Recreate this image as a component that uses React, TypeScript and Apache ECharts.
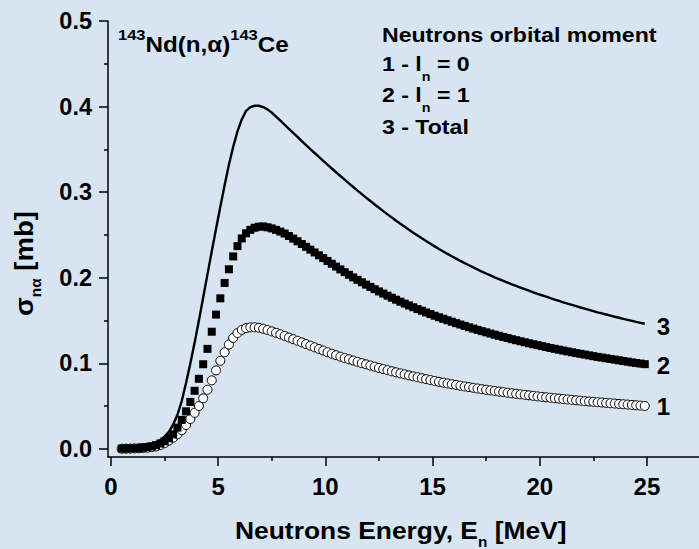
import { useEffect, useRef } from "react";
import * as echarts from "echarts";

// Neutron energy grid, MeV
const energyMeV = [
  0.5, 0.7, 0.9, 1.1, 1.3, 1.5, 1.7, 1.9, 2.1, 2.3,
  2.5, 2.7, 2.9, 3.1, 3.3, 3.5, 3.7, 3.9, 4.1, 4.3,
  4.5, 4.7, 4.9, 5.1, 5.3, 5.5, 5.7, 5.9, 6.1, 6.3,
  6.5, 6.7, 6.9,
  7.1, 7.3, 7.5, 7.7, 7.9, 8.1, 8.3, 8.5, 8.7, 8.9,
  9.1, 9.3, 9.5, 9.7, 9.9, 10.1, 10.3, 10.5, 10.7, 10.9,
  11.1, 11.3, 11.5, 11.7, 11.9, 12.1, 12.3, 12.5, 12.7, 12.9,
  13.1, 13.3, 13.5, 13.7, 13.9, 14.1, 14.3, 14.5, 14.7, 14.9,
  15.1, 15.3, 15.5, 15.7, 15.9, 16.1, 16.3, 16.5, 16.7, 16.9,
  17.1, 17.3, 17.5, 17.7, 17.9, 18.1, 18.3, 18.5, 18.7, 18.9,
  19.1, 19.3, 19.5, 19.7, 19.9, 20.1, 20.3, 20.5, 20.7, 20.9,
  21.1, 21.3, 21.5, 21.7, 21.9, 22.1, 22.3, 22.5, 22.7, 22.9,
  23.1, 23.3, 23.5, 23.7, 23.9, 24.1, 24.3, 24.5, 24.7, 24.9,
];

// Cross section for l_n = 0 (curve 1), mb
const sigmaL0 = [
  0.0003, 0.0004, 0.0005, 0.0007, 0.0009, 0.0012, 0.0016, 0.0022, 0.003, 0.0045,
  0.0068, 0.0098, 0.0132, 0.0172, 0.022, 0.028, 0.035, 0.0422, 0.0502, 0.0592,
  0.0692, 0.0802, 0.0918, 0.103, 0.113, 0.122, 0.1298, 0.1355, 0.1392, 0.1412,
  0.1421, 0.1422, 0.1416,
  0.1404, 0.139, 0.1374, 0.1358, 0.134, 0.1321, 0.1302, 0.1283, 0.1264, 0.1245,
  0.1226, 0.1207, 0.1188, 0.1169, 0.115, 0.1131, 0.1113, 0.1096, 0.1079, 0.1063,
  0.1048, 0.1033, 0.1018, 0.1003, 0.0989, 0.0975, 0.0961, 0.0947, 0.0934, 0.0921,
  0.0908, 0.0896, 0.0884, 0.0872, 0.086, 0.0849, 0.0838, 0.0827, 0.0816, 0.0805,
  0.0795, 0.0785, 0.0775, 0.0766, 0.0757, 0.0748, 0.0739, 0.0731, 0.0723, 0.0715,
  0.0707, 0.0699, 0.0692, 0.0685, 0.0678, 0.0671, 0.0664, 0.0657, 0.0651, 0.0645,
  0.0639, 0.0633, 0.0627, 0.0621, 0.0615, 0.0609, 0.0604, 0.0599, 0.0594, 0.0589,
  0.0584, 0.0579, 0.0574, 0.0569, 0.0564, 0.0559, 0.0555, 0.0551, 0.0547, 0.0543,
  0.0539, 0.0535, 0.0531, 0.0527, 0.0523, 0.0519, 0.0515, 0.0511, 0.0507, 0.0503,
];

// Cross section for l_n = 1 (curve 2), mb
const sigmaL1 = [
  0.0004, 0.0005, 0.0007, 0.0009, 0.0012, 0.0016, 0.0022, 0.0031, 0.0045, 0.0064,
  0.009, 0.0125, 0.0172, 0.025, 0.034, 0.044, 0.055, 0.068, 0.082, 0.099,
  0.117, 0.137, 0.157, 0.176, 0.194, 0.21, 0.225, 0.237, 0.246, 0.252,
  0.256, 0.2585, 0.2597,
  0.26, 0.259, 0.2577, 0.256, 0.254, 0.2517, 0.2488, 0.2458, 0.2427, 0.2395,
  0.2362, 0.2329, 0.2296, 0.2263, 0.223, 0.2197, 0.2164, 0.2131, 0.2098, 0.2066,
  0.2035, 0.2005, 0.1976, 0.1948, 0.192, 0.1893, 0.1867, 0.1841, 0.1816, 0.1791,
  0.1767, 0.1744, 0.1721, 0.1699, 0.1677, 0.1656, 0.1635, 0.1615, 0.1595, 0.1576,
  0.1557, 0.1539, 0.1521, 0.1504, 0.1487, 0.147, 0.1454, 0.1438, 0.1422, 0.1407,
  0.1392, 0.1377, 0.1363, 0.1349, 0.1335, 0.1322, 0.1309, 0.1296, 0.1283, 0.1271,
  0.1259, 0.1247, 0.1235, 0.1224, 0.1213, 0.1202, 0.1191, 0.118, 0.117, 0.116,
  0.115, 0.114, 0.113, 0.1121, 0.1112, 0.1103, 0.1094, 0.1085, 0.1076, 0.1068,
  0.106, 0.1052, 0.1044, 0.1036, 0.1028, 0.102, 0.1012, 0.1005, 0.0998, 0.0991,
];

// Total cross section (curve 3), mb
const sigmaTotal = [
  0.0007, 0.0009, 0.0012, 0.0016, 0.0021, 0.0028, 0.0038, 0.0053, 0.0075, 0.0105,
  0.0145, 0.02, 0.0285, 0.04, 0.056, 0.077, 0.1, 0.124, 0.15, 0.177,
  0.204, 0.231, 0.257, 0.283, 0.308, 0.332, 0.353, 0.371, 0.385, 0.395,
  0.3995, 0.401, 0.401,
  0.3995, 0.3968, 0.393, 0.3884, 0.3836, 0.3788, 0.374, 0.3692, 0.3645, 0.3598,
  0.3551, 0.3504, 0.3458, 0.3412, 0.3367, 0.3322, 0.3277, 0.3233, 0.3189, 0.3146,
  0.3103, 0.3061, 0.3019, 0.2978, 0.2937, 0.2897, 0.2857, 0.2818, 0.2779, 0.2741,
  0.2704, 0.2667, 0.2631, 0.2596, 0.2561, 0.2527, 0.2494, 0.2461, 0.2429, 0.2398,
  0.2367, 0.2337, 0.2308, 0.2279, 0.2251, 0.2224, 0.2197, 0.2171, 0.2146, 0.2121,
  0.2097, 0.2073, 0.205, 0.2028, 0.2006, 0.1985, 0.1964, 0.1944, 0.1924, 0.1905,
  0.1886, 0.1867, 0.1849, 0.1831, 0.1813, 0.1796, 0.1779, 0.1762, 0.1746, 0.173,
  0.1714, 0.1698, 0.1683, 0.1668, 0.1653, 0.1639, 0.1625, 0.1611, 0.1597, 0.1584,
  0.1571, 0.1558, 0.1545, 0.1533, 0.1521, 0.1509, 0.1497, 0.1485, 0.1474, 0.1463,
];

const xMajorTicks = [0, 5, 10, 15, 20, 25];
const xMinorTicks = [2.5, 7.5, 12.5, 17.5, 22.5];
const yMajorTicks = [0, 0.1, 0.2, 0.3, 0.4, 0.5];
const yMinorTicks = [0.05, 0.15, 0.25, 0.35, 0.45];
const curveTags = ["1", "2", "3"];

const FONT_FAMILY = '"Liberation Sans", Arial, Helvetica, sans-serif';
const BG = "#d7e5f3";

type Run = { text: string; size: number; dy?: number };

const measureCtx = document.createElement("canvas").getContext("2d");
function textWidth(text: string, size: number) {
  if (!measureCtx) return text.length * size * 0.55;
  measureCtx.font = `bold ${size}px "Liberation Sans", Arial, sans-serif`;
  return measureCtx.measureText(text).width;
}

// One line of mixed-size text (sub/superscripts) placed on a common baseline
function textLine(x: number, baseline: number, runs: Run[], stretch = 1.1, rotation = 0) {
  let cursor = 0;
  const children = runs.map((r) => {
    const el = {
      type: "text",
      x: cursor,
      y: (r.dy ?? 0) - 0.3465 * r.size,
      silent: true,
      style: {
        text: r.text,
        fontSize: r.size,
        fontWeight: "bold",
        fontFamily: FONT_FAMILY,
        fill: "#000",
        align: "left",
        verticalAlign: "middle",
        textAlign: "left",
        textVerticalAlign: "middle",
      },
    };
    cursor += textWidth(r.text, r.size);
    return el;
  });
  return { type: "group", x, y: baseline, rotation, scaleX: stretch, children };
}

const pairs = (ys: number[]) => energyMeV.map((e, i) => [e, ys[i]]);

const X_MIN = -0.14;
const X_MAX = 27.43;
const Y_MIN = -0.00935;
const Y_MAX = 0.5;

export default function App() {
  const ref = useRef<HTMLDivElement>(null);

  useEffect(() => {
    document.body.style.margin = "0";
    if (!ref.current) return;
    const chart = echarts.init(ref.current, null, { renderer: "svg" });

    const labelFont = {
      fontFamily: FONT_FAMILY,
      fontWeight: "bold" as const,
      color: "#000",
    };

    const endLabel = (tag: string, dy: number) => ({
      show: true,
      formatter: tag,
      distance: 12,
      offset: [0, dy],
      fontSize: 24,
      ...labelFont,
    });

    chart.setOption({
      animation: false,
      backgroundColor: BG,
      textStyle: { fontFamily: FONT_FAMILY },
      grid: { left: 108, right: 0, top: 21, bottom: 92, containLabel: false },
      xAxis: [
        {
          type: "value",
          position: "bottom",
          min: X_MIN,
          max: X_MAX,
          axisLine: { onZero: false, lineStyle: { color: "#000", width: 1.5 } },
          axisTick: { customValues: xMajorTicks, length: 9, lineStyle: { color: "#000", width: 1.5 } },
          axisLabel: {
            customValues: xMajorTicks,
            margin: 17,
            fontSize: 24,
            ...labelFont,
            formatter: (v: number) => String(v),
          },
          splitLine: { show: false },
        },
        {
          type: "value",
          position: "bottom",
          min: X_MIN,
          max: X_MAX,
          axisLine: { show: false, onZero: false },
          axisTick: { customValues: xMinorTicks, length: 4, lineStyle: { color: "#000", width: 1.5 } },
          axisLabel: { show: false },
          splitLine: { show: false },
        },
      ],
      yAxis: [
        {
          type: "value",
          position: "left",
          min: Y_MIN,
          max: Y_MAX,
          axisLine: { show: true, onZero: false, lineStyle: { color: "#000", width: 1.5 } },
          axisTick: { show: true, customValues: yMajorTicks, length: 9, lineStyle: { color: "#000", width: 1.5 } },
          axisLabel: {
            customValues: yMajorTicks,
            margin: 16,
            fontSize: 23.5,
            ...labelFont,
            formatter: (v: number) => v.toFixed(1),
          },
          splitLine: { show: false },
        },
        {
          type: "value",
          position: "left",
          min: Y_MIN,
          max: Y_MAX,
          axisLine: { show: false, onZero: false },
          axisTick: { show: true, customValues: yMinorTicks, length: 4, lineStyle: { color: "#000", width: 1.5 } },
          axisLabel: { show: false },
          splitLine: { show: false },
        },
      ],
      series: [
        {
          name: "Total",
          type: "line",
          data: pairs(sigmaTotal),
          showSymbol: false,
          lineStyle: { color: "#000", width: 2.4 },
          z: 2,
          endLabel: endLabel(curveTags[2], 3),
        },
        {
          name: "l_n = 0",
          type: "line",
          data: pairs(sigmaL0),
          symbol: "circle",
          symbolSize: 9,
          showSymbol: true,
          showAllSymbol: true,
          itemStyle: { color: "#fff", borderColor: "#000", borderWidth: 1 },
          lineStyle: { width: 0, opacity: 0 },
          z: 3,
          endLabel: endLabel(curveTags[0], 1),
        },
        {
          name: "l_n = 1",
          type: "line",
          data: pairs(sigmaL1),
          symbol: "rect",
          symbolSize: 8,
          showSymbol: true,
          showAllSymbol: true,
          itemStyle: { color: "#000" },
          lineStyle: { width: 0, opacity: 0 },
          z: 4,
          endLabel: endLabel(curveTags[1], 1),
        },
      ],
      graphic: [
        // reaction
        textLine(118, 52, [
          { text: "143", size: 15, dy: -12 },
          { text: "Nd(n,\u03b1)", size: 22 },
          { text: "143", size: 15, dy: -12 },
          { text: "Ce", size: 22 },
        ]),
        // legend block
        textLine(382, 42, [{ text: "Neutrons orbital moment", size: 21 }]),
        textLine(382, 71, [
          { text: "1 - l", size: 21 },
          { text: "n", size: 13, dy: 10 },
          { text: " = 0", size: 21 },
        ]),
        textLine(382, 102, [
          { text: "2 - l", size: 21 },
          { text: "n", size: 13, dy: 10 },
          { text: " = 1", size: 21 },
        ]),
        textLine(382, 134, [{ text: "3 - Total", size: 21 }]),
        // x axis title
        textLine(235, 539, [
          { text: "Neutrons Energy, E", size: 24 },
          { text: "n", size: 14, dy: 8 },
          { text: " [MeV]", size: 24 },
        ]),
        // y axis title (rotated)
        textLine(
          33,
          316,
          [
            { text: "\u03c3", size: 25 },
            { text: "n\u03b1", size: 14, dy: 8 },
            { text: " [mb]", size: 25 },
          ],
          1.1,
          Math.PI / 2
        ),
      ],
    });

    return () => chart.dispose();
  }, []);

  return (
    <div
      ref={ref}
      style={{ position: "absolute", left: 0, top: 0, width: 699, height: 549, background: BG }}
    />
  );
}
